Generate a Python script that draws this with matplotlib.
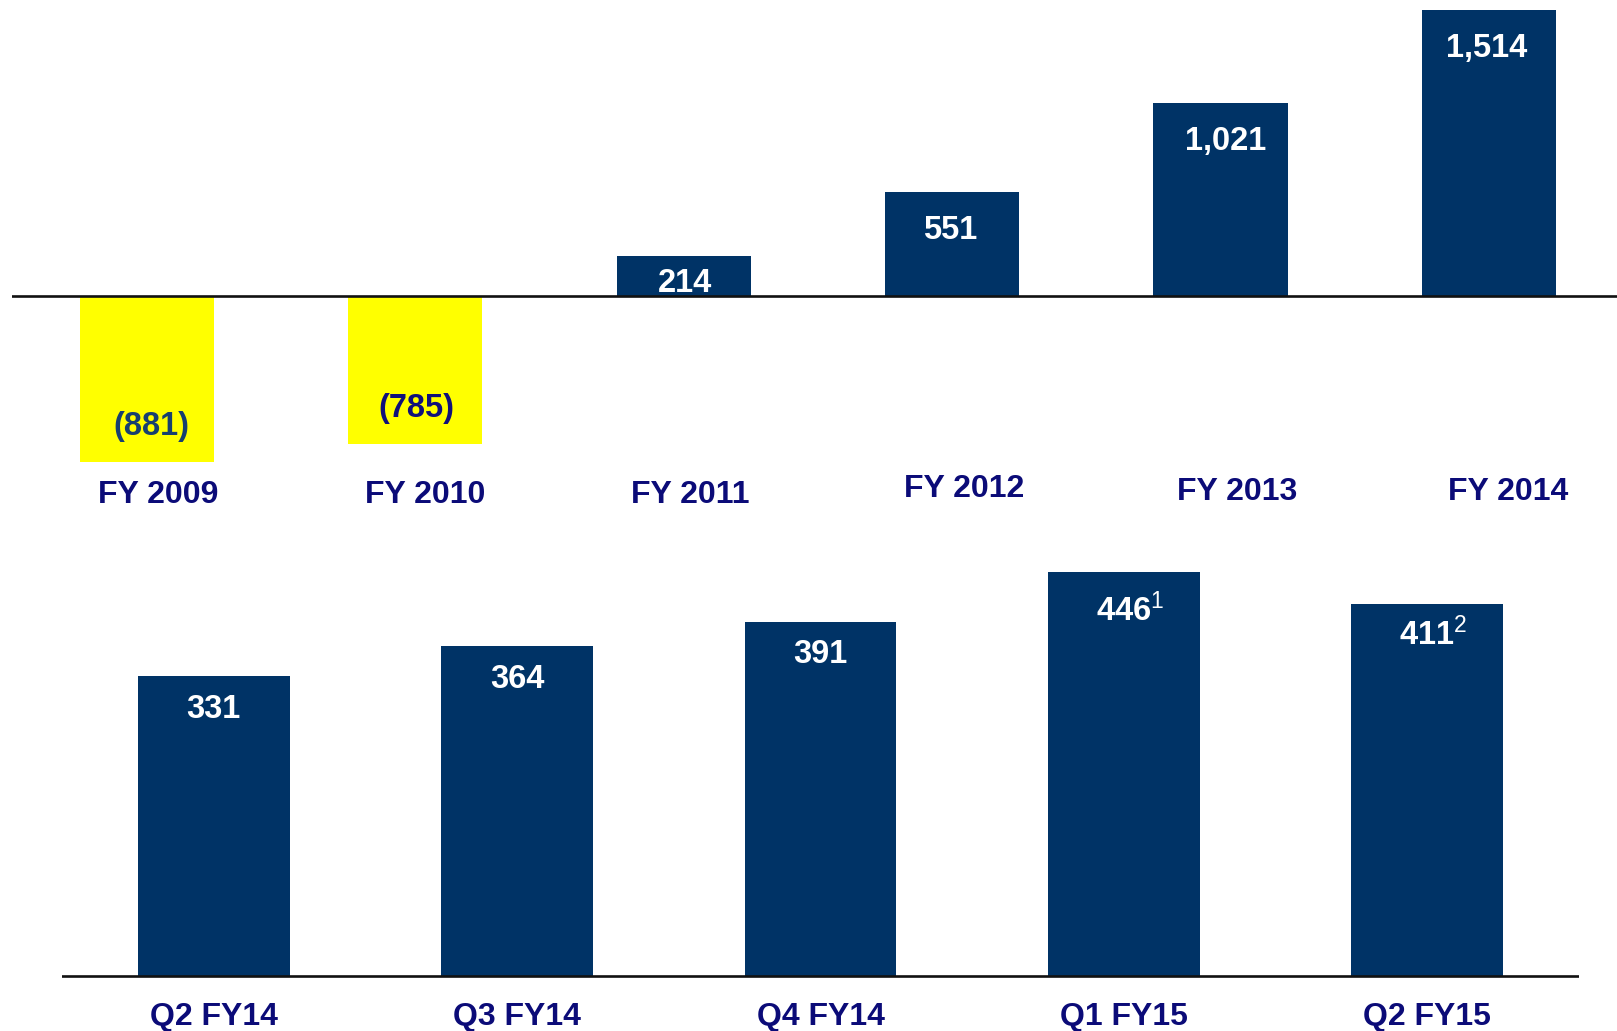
import matplotlib
matplotlib.use("Agg")
import matplotlib.pyplot as plt

plt.rcParams['font.family'] = ['Liberation Sans', 'DejaVu Sans']
plt.rcParams['mathtext.fontset'] = 'custom'
plt.rcParams['mathtext.rm'] = 'Liberation Sans'
plt.rcParams['mathtext.it'] = 'Liberation Sans'
plt.rcParams['mathtext.bf'] = 'Liberation Sans:bold'

# ---- data ----
annual_labels = ["FY 2009", "FY 2010", "FY 2011", "FY 2012", "FY 2013", "FY 2014"]
annual_values = [-881, -785, 214, 551, 1021, 1514]
annual_texts = ["(881)", "(785)", "214", "551", "1,021", "1,514"]

quarter_labels = ["Q2 FY14", "Q3 FY14", "Q4 FY14", "Q1 FY15", "Q2 FY15"]
quarter_values = [331, 364, 391, 446, 411]
quarter_texts = ["331", "364", "391", "446$^{1}$", "411$^{2}$"]

# ---- style ----
W, H = 1617, 1031
DPI = 100
NAVY_BAR = "#003366"
YELLOW = "#ffff00"
LABEL_COL = "#0b0b78"
NEG_TEXT = ["#173f6f", "#10107a"]
FS_LAB = 23
FS_VAL = 23.5
PX2PT = 72.0 / DPI

fig = plt.figure(figsize=(W / DPI, H / DPI), dpi=DPI)
fig.patch.set_facecolor("white")


def axes_px(x0, x1, y0, y1):
    # pixel box (top-left origin) -> figure axes
    return fig.add_axes([x0 / W, 1 - y1 / H, (x1 - x0) / W, (y1 - y0) / H])


# ---- top chart ----
top_base = 296.0
top_scale = 0.1888  # px per unit
top_ymax, top_ymin = 1570, -1100
axT = axes_px(12, W, top_base - top_ymax * top_scale, top_base - top_ymin * top_scale)
axT.set_xlim(-0.503, 5.477)
axT.set_ylim(top_ymin, top_ymax)
axT.axis("off")
colors = [YELLOW if v < 0 else NAVY_BAR for v in annual_values]
xs = list(range(len(annual_values)))
axT.bar(xs, annual_values, width=0.5, color=colors, zorder=2)
axT.axhline(0, color="#111111", lw=1.9, zorder=3)

lab_dy = [495, 495, 495, 489, 492, 492]          # label centre pixel rows
lab_dx = [0.042, 0.035, 0.023, 0.046, 0.062, 0.073]  # label x nudges
val_dx = [0.015, 0.004, 0.004, -0.008, 0.02, -0.008]
neg_i = 0
for i, (v, t) in enumerate(zip(annual_values, annual_texts)):
    h = abs(v) * top_scale
    if v < 0:
        axT.annotate(t, (i + val_dx[i], v), xytext=(0, 27.5 * PX2PT), textcoords="offset points",
                     ha="center", va="baseline", fontsize=FS_VAL, fontweight="bold",
                     color=NEG_TEXT[neg_i], zorder=4)
        neg_i += 1
    else:
        off = min(47, h - 4)
        axT.annotate(t, (i + val_dx[i], v), xytext=(0, -off * PX2PT), textcoords="offset points",
                     ha="center", va="baseline", fontsize=FS_VAL, fontweight="bold",
                     color="white", zorder=4)
    axT.text(i + lab_dx[i], -(lab_dy[i] - top_base) / top_scale, annual_labels[i],
             ha="center", va="center", fontsize=FS_LAB, fontweight="bold",
             color=LABEL_COL, clip_on=False)

# ---- bottom chart ----
bot_base = 975.5
bot_scale = 0.9047
bot_ymax, bot_ymin = 470, -60
axB = axes_px(62, 1579, bot_base - bot_ymax * bot_scale, bot_base - bot_ymin * bot_scale)
axB.set_xlim(-0.5, 4.5)
axB.set_ylim(bot_ymin, bot_ymax)
axB.axis("off")
xq = list(range(len(quarter_values)))
axB.bar(xq, quarter_values, width=0.5, color=NAVY_BAR, zorder=2)
axB.axhline(0, color="#111111", lw=1.9, zorder=3)
q_off = [42, 42, 41, 49, 41]
q_dx = [0.0, 0.0, 0.0, 0.02, 0.02]
for i, (v, t) in enumerate(zip(quarter_values, quarter_texts)):
    axB.annotate(t, (i + q_dx[i], v), xytext=(0, -q_off[i] * PX2PT), textcoords="offset points",
                 ha="center", va="baseline", fontsize=FS_VAL, fontweight="bold",
                 color="white", zorder=4)
    axB.text(i, -(1017 - bot_base) / bot_scale, quarter_labels[i],
             ha="center", va="center", fontsize=FS_LAB, fontweight="bold",
             color=LABEL_COL, clip_on=False)

fig.savefig("out.png", dpi=DPI, facecolor="white")
